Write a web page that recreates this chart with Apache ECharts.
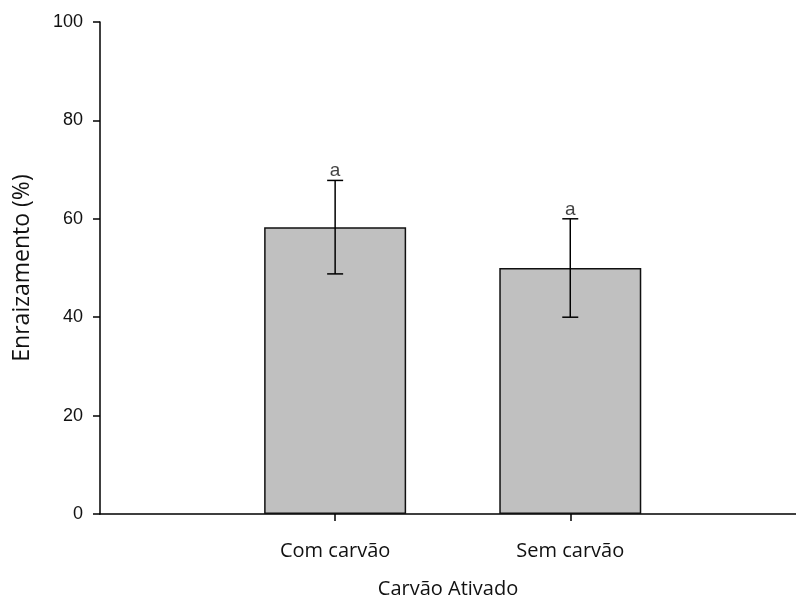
<!DOCTYPE html>
<html>
<head>
<meta charset="utf-8">
<script src="https://cdn.jsdelivr.net/npm/echarts@6/dist/echarts.min.js"></script>
<style>
  html, body { margin: 0; padding: 0; background: #fff; }
  #chart { width: 796px; height: 596px; }
</style>
</head>
<body>
<div id="chart"></div>
<script>
// Rooting percentage by activated charcoal treatment
const categories = ['Com carvão', 'Sem carvão'];
const positions = [1, 2];
const means = [58.3, 50];
const errors = [9.5, 10];
const letters = ['a', 'a'];
const yTicks = [0, 20, 40, 60, 80, 100];

const barData = positions.map((p, i) => [p, means[i]]);
const errData = positions.map((p, i) => [p, means[i], errors[i]]);
const letterData = positions.map((p, i) => ({ value: [p, means[i] + errors[i]], letter: letters[i] }));

const calibriLike = 'Open Sans';
const arialLike = 'Liberation Sans';

const chart = echarts.init(document.getElementById('chart'));
chart.setOption({
  animation: false,
  backgroundColor: '#ffffff',
  grid: { left: 100, right: 0, top: 22, bottom: 82, outerBoundsMode: 'none', containLabel: false },
  xAxis: {
    type: 'value',
    min: 0,
    max: 2.96,
    interval: 1,
    name: 'Carvão Ativado',
    nameLocation: 'middle',
    nameGap: 65,
    nameTextStyle: { fontFamily: calibriLike, fontSize: 20, color: '#111' },
    axisLine: { show: true, lineStyle: { color: '#000', width: 1.5 } },
    axisTick: { show: true, length: 7, customValues: positions, lineStyle: { color: '#000', width: 1.5 } },
    axisLabel: {
      customValues: positions,
      margin: 27,
      fontFamily: calibriLike,
      fontSize: 20,
      color: '#111',
      formatter: v => {
        const i = positions.indexOf(v);
        return i >= 0 ? categories[i] : '';
      }
    },
    splitLine: { show: false }
  },
  yAxis: {
    type: 'value',
    min: yTicks[0],
    max: yTicks[yTicks.length - 1],
    interval: 20,
    name: 'Enraizamento (%)',
    nameLocation: 'middle',
    nameGap: 66,
    nameTextStyle: { fontFamily: calibriLike, fontSize: 23, color: '#111' },
    axisLine: { show: true, lineStyle: { color: '#000', width: 1.5 } },
    axisTick: { show: true, length: 7, lineStyle: { color: '#000', width: 1.5 } },
    axisLabel: { margin: 17, fontFamily: arialLike, fontSize: 18, color: '#111' },
    splitLine: { show: false }
  },
  series: [
    {
      type: 'bar',
      data: barData,
      barWidth: 142,
      itemStyle: { color: '#c0c0c0', borderColor: '#111', borderWidth: 1.5 }
    },
    {
      type: 'custom',
      data: errData,
      z: 10,
      renderItem: function (params, api) {
        const x = api.value(0);
        const m = api.value(1);
        const e = api.value(2);
        const hi = api.coord([x, m + e]);
        const lo = api.coord([x, m - e]);
        const cap = 8;
        const style = { stroke: '#000', lineWidth: 1.5 };
        return {
          type: 'group',
          children: [
            { type: 'line', shape: { x1: hi[0], y1: hi[1], x2: lo[0], y2: lo[1] }, style: style },
            { type: 'line', shape: { x1: hi[0] - cap, y1: hi[1], x2: hi[0] + cap, y2: hi[1] }, style: style },
            { type: 'line', shape: { x1: lo[0] - cap, y1: lo[1], x2: lo[0] + cap, y2: lo[1] }, style: style }
          ]
        };
      }
    },
    {
      // significance letters above each upper error cap
      type: 'scatter',
      data: letterData,
      symbolSize: 0,
      z: 11,
      label: {
        show: true,
        position: 'top',
        distance: 0,
        fontFamily: arialLike,
        fontSize: 19,
        color: '#111',
        formatter: p => p.data.letter
      }
    }
  ]
});
</script>
</body>
</html>
